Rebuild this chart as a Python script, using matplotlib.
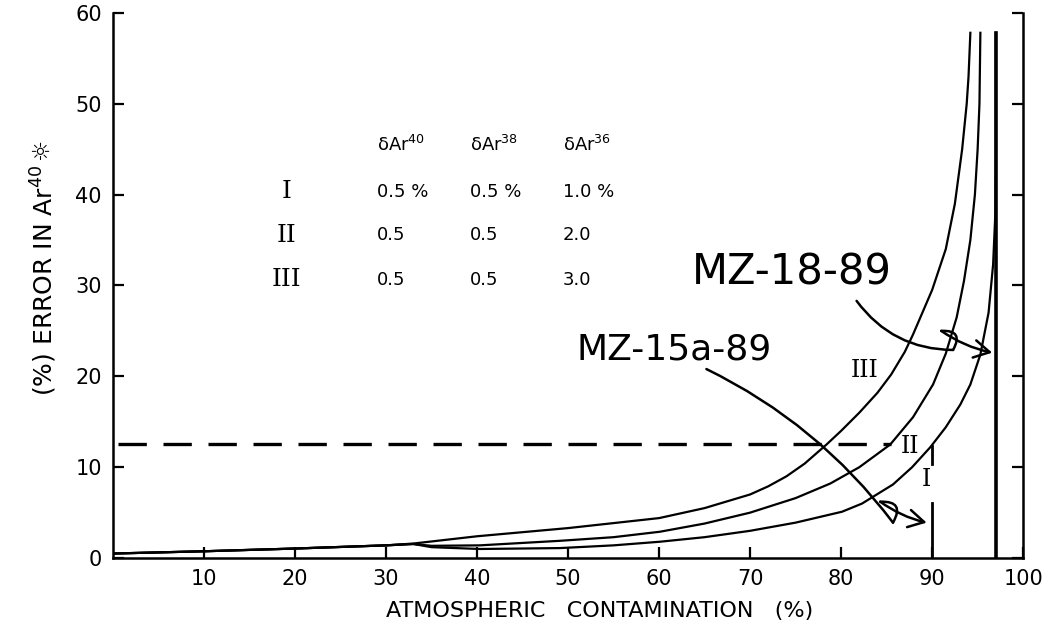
import matplotlib
matplotlib.use('Agg')
import matplotlib.pyplot as plt
from matplotlib.patches import FancyArrowPatch

# curves: atmospheric contamination (%) vs error in Ar40* (%)
cont_I = [0, 10, 20, 30, 33, 35, 40.3, 49.1, 55, 60.1, 65, 70, 75, 80.1, 82.3, 85.7, 87.8, 89.8,
          91.5, 93.1, 94.2, 95.3, 96.2, 96.7, 96.95, 97, 97]
err_I = [0.5, 0.75, 1.05, 1.4, 1.55, 1.2, 1.0, 1.1, 1.4, 1.8, 2.3, 3.0, 3.9, 5.1, 6.0, 8.1, 10.0, 12.2,
         14.4, 16.9, 19.1, 22.4, 27, 32.3, 38, 45, 57.8]

cont_II = [0, 10, 20, 30, 33, 35, 40.3, 49.1, 55, 60.1, 65, 70, 75, 78.8, 82, 85.4, 87.9, 90.1,
           91.5, 92.7, 93.5, 94.2, 94.7, 95.0, 95.2, 95.3]
err_II = [0.5, 0.75, 1.05, 1.4, 1.55, 1.35, 1.4, 1.9, 2.3, 2.9, 3.8, 5.0, 6.6, 8.2, 10.0, 12.5, 15.5, 19.1,
          22.5, 26.5, 30.5, 35, 40, 45, 50, 57.8]

cont_III = [0, 10, 20, 30, 33, 40, 50, 60, 65, 70, 72, 74, 76, 78.4, 80, 82, 84, 85.5, 87, 87.9,
            90, 91.5, 92.5, 93.3, 93.8, 94.0, 94.2]
err_III = [0.5, 0.75, 1.05, 1.4, 1.6, 2.4, 3.3, 4.4, 5.5, 7.0, 7.9, 9.0, 10.4, 12.5, 14.0, 16.0, 18.2,
           20.2, 22.7, 24.6, 29.5, 34, 39, 45, 50, 53, 57.8]

curve_names = ['I', 'II', 'III']
curve_label_x = [89.4, 87.6, 82.6]
curve_label_y = [8.7, 12.3, 20.6]

# sample markers
sample_names = ['MZ-15a-89', 'MZ-18-89']
sample_cont = [90, 97]
dashed_err = 12.5

# table
table_cols = ['\u03b4Ar$^{40}$', '\u03b4Ar$^{38}$', '\u03b4Ar$^{36}$']
table_rows = ['I', 'II', 'III']
table_vals = [['0.5 %', '0.5 %', '1.0 %'],
              ['0.5', '0.5', '2.0'],
              ['0.5', '0.5', '3.0']]

fig = plt.figure(figsize=(10.51, 6.40), dpi=100)
ax = fig.add_axes([0.1075, 0.128, 0.866, 0.852])

lw = 1.6
ax.plot(cont_I, err_I, color='black', lw=lw)
ax.plot(cont_II, err_II, color='black', lw=lw)
ax.plot(cont_III, err_III, color='black', lw=lw)

# vertical sample lines
ax.plot([sample_cont[0], sample_cont[0]], [0, 6.1], color='black', lw=2)
ax.plot([sample_cont[0], sample_cont[0]], [10.4, 12.3], color='black', lw=2)
ax.plot([sample_cont[1], sample_cont[1]], [0, 57.8], color='black', lw=2.6)

ax.plot([0.5, 85.5], [dashed_err, dashed_err], color='black', lw=2.4,
        linestyle=(0, (8.5, 5)))

for name, lx, ly in zip(curve_names, curve_label_x, curve_label_y):
    ax.text(lx, ly, name, family='DejaVu Serif', fontsize=17,
            ha='center', va='center')

# table of uncertainties
col_x = [29.0, 39.2, 49.4]
head_y = 45.5
row_y = [40.3, 35.5, 30.6]
for cx, head in zip(col_x, table_cols):
    ax.text(cx, head_y, head, fontsize=13, ha='left', va='center')
for ry, rname, vals in zip(row_y, table_rows, table_vals):
    ax.text(19.1, ry, rname, family='DejaVu Serif', fontsize=18,
            ha='center', va='center')
    for cx, v in zip(col_x, vals):
        ax.text(cx, ry, v, fontsize=13, ha='left', va='center')

# hand written sample annotations
ax.text(74.6, 31.4, sample_names[1], fontsize=30, ha='center', va='center')
ax.text(61.7, 23.0, sample_names[0], fontsize=26, ha='center', va='center')

def arc(p0, p1, rad, head=False):
    style = '->,head_length=0.8,head_width=0.45' if head else '-'
    a = FancyArrowPatch(p0, p1, arrowstyle=style, mutation_scale=14,
                        connectionstyle='arc3,rad=%s' % rad,
                        color='black', lw=1.8, shrinkA=0, shrinkB=0)
    ax.add_patch(a)

# MZ-18-89 arrow with its squiggle
arc((81.7, 28.3), (92.3, 22.9), 0.25)
arc((92.3, 22.9), (91.0, 25.0), 0.9)
arc((91.0, 25.0), (96.6, 22.6), 0.1, head=True)
# MZ-15a-89 arrow with its squiggle
arc((65.2, 20.8), (85.7, 3.9), -0.12)
arc((85.7, 3.9), (84.3, 6.2), 0.9)
arc((84.3, 6.2), (89.4, 3.9), 0.1, head=True)

ax.set_xlim(0, 100)
ax.set_ylim(0, 60)
ax.set_xticks(range(10, 101, 10))
ax.set_yticks(range(0, 61, 10))
ax.spines['top'].set_visible(False)
for s in ['left', 'right', 'bottom']:
    ax.spines[s].set_linewidth(1.8)
ax.tick_params(direction='in', length=8, width=1.6, right=True,
               labelsize=15, pad=8)

fig.text(600 / 1051, 1 - 611 / 640, 'ATMOSPHERIC   CONTAMINATION   (%)',
         fontsize=16, ha='center', va='center')
ylab = fig.text(44 / 1051, 1 - 280 / 640, '(%) ERROR IN Ar$^{40}$',
                fontsize=18, rotation=90, ha='center', va='center')
ax.annotate('\u263c', xy=(0.0, 1.0), xycoords=ylab, xytext=(0, 3),
            textcoords='offset points', fontsize=17, rotation=90,
            ha='left', va='bottom')

fig.savefig('out.png', dpi=100, facecolor='white')
